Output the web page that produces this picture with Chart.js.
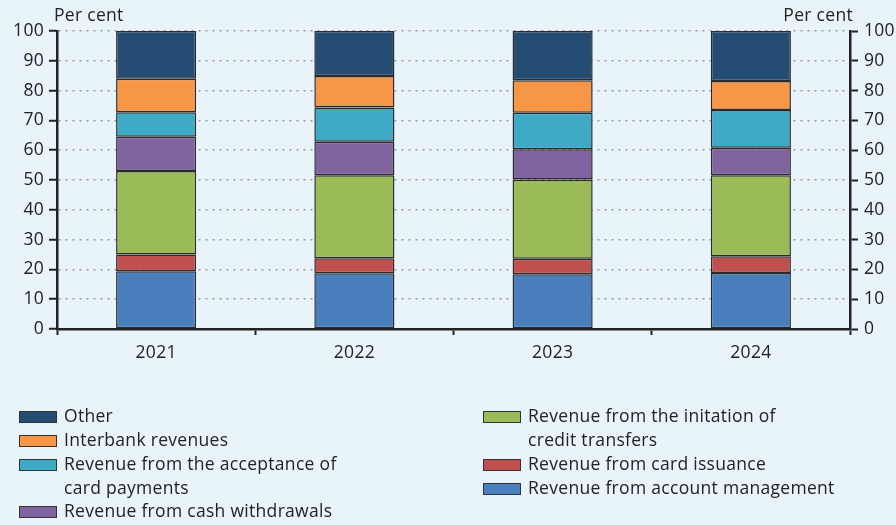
<!DOCTYPE html>
<html>
<head>
<meta charset="utf-8">
<script src="https://cdn.jsdelivr.net/npm/chart.js@4.4.1/dist/chart.umd.min.js"></script>
<style>
  body { margin: 0; background: #e9f3fa; }
  #wrap { position: relative; width: 896px; height: 525px; background: #e9f3fa; font-family: 'Open Sans', sans-serif; color: #222; }
  #chart { position: absolute; left: 0; top: 0; }
  .leg { position: absolute; font-size: 17.5px; letter-spacing: 0.3px; line-height: 23.7px; white-space: nowrap; }
  .leg .box { position: absolute; left: 0; top: 6px; width: 36px; height: 10px; border: 1px solid #333; }
  .leg .txt { position: absolute; left: 45px; top: -1px; }
</style>
</head>
<body>
<div id="wrap">
  <canvas id="chart" width="896" height="525"></canvas>
  <div id="legend"></div>
</div>
<script>
const years = ['2021', '2022', '2023', '2024'];

const accountManagement = [19.4, 18.7, 18.4, 18.8];
const cardIssuance = [5.6, 5.0, 5.2, 5.6];
const creditTransfers = [28.0, 27.9, 26.6, 27.2];
const cashWithdrawals = [11.5, 11.2, 10.1, 9.2];
const cardAcceptance = [8.2, 11.5, 12.3, 12.7];
const interbank = [11.3, 10.6, 10.9, 9.7];
const other = [16.0, 15.1, 16.5, 16.8];

const yTicks = [0, 10, 20, 30, 40, 50, 60, 70, 80, 90, 100];

const FONT = "'Open Sans', sans-serif";
const FSIZE = 17.5;

// stacked from bottom to top
const series = [
  { label: 'Revenue from account management', data: accountManagement, color: '#4a7fbe' },
  { label: 'Revenue from card issuance', data: cardIssuance, color: '#c0504d' },
  { label: 'Revenue from the initation of credit transfers', data: creditTransfers, color: '#9bbb59' },
  { label: 'Revenue from cash withdrawals', data: cashWithdrawals, color: '#7f64a0' },
  { label: 'Revenue from the acceptance of card payments', data: cardAcceptance, color: '#3eaac6' },
  { label: 'Interbank revenues', data: interbank, color: '#f79646' },
  { label: 'Other', data: other, color: '#254c73' }
];

// legend layout (html, two columns with wrapped lines)
const legendItems = [
  { s: 6, x: 19, y: 405, lines: ['Other'] },
  { s: 5, x: 19, y: 429, lines: ['Interbank revenues'] },
  { s: 4, x: 19, y: 453, lines: ['Revenue from the acceptance of', 'card payments'] },
  { s: 3, x: 19, y: 500, lines: ['Revenue from cash withdrawals'] },
  { s: 2, x: 483, y: 405, lines: ['Revenue from the initation of', 'credit transfers'] },
  { s: 1, x: 483, y: 453, lines: ['Revenue from card issuance'] },
  { s: 0, x: 483, y: 477, lines: ['Revenue from account management'] }
];
const legendEl = document.getElementById('legend');
legendItems.forEach(function (it) {
  const d = document.createElement('div');
  d.className = 'leg';
  d.style.left = it.x + 'px';
  d.style.top = it.y + 'px';
  d.innerHTML = '<span class="box" style="background:' + series[it.s].color + '"></span>' +
    '<span class="txt">' + it.lines.join('<br>') + '</span>';
  legendEl.appendChild(d);
});

const perCent = {
  id: 'perCent',
  beforeDraw(chart) {
    chart.ctx.letterSpacing = '0.3px';
  },
  afterDraw(chart) {
    const ctx = chart.ctx;
    const a = chart.chartArea;
    ctx.save();
    ctx.font = FSIZE + 'px ' + FONT;
    ctx.fillStyle = '#222';
    ctx.textBaseline = 'middle';
    ctx.textAlign = 'left';
    ctx.fillText('Per cent', a.left - 3, a.top - 15);
    ctx.textAlign = 'right';
    ctx.fillText('Per cent', a.right + 3, a.top - 15);
    ctx.restore();
  }
};

new Chart(document.getElementById('chart'), {
  type: 'bar',
  data: {
    labels: years,
    datasets: series.map(function (s) {
      return {
        label: s.label,
        data: s.data,
        backgroundColor: s.color,
        borderColor: '#2a2a2a',
        borderWidth: 1.5,
        borderSkipped: false,
        categoryPercentage: 1,
        barPercentage: 0.404
      };
    })
  },
  options: {
    responsive: false,
    animation: false,
    layout: { padding: { top: 31, left: 0, right: 0, bottom: 0 } },
    plugins: { legend: { display: false }, tooltip: { enabled: false } },
    scales: {
      x: {
        stacked: true,
        afterFit: function (scale) { scale.height = 196; },
        grid: { offset: true, drawOnChartArea: false, drawTicks: true, tickLength: 6, tickColor: '#222', tickWidth: 2 },
        border: { color: '#222', width: 2.5 },
        ticks: { color: '#222', font: { family: FONT, size: FSIZE }, padding: 8 }
      },
      y: {
        stacked: true,
        min: 0,
        max: 100,
        afterFit: function (scale) { scale.width = 57; },
        afterBuildTicks: function (scale) { scale.ticks = yTicks.map(function (v) { return { value: v }; }); },
        grid: { color: '#9a9a9a', lineWidth: 1.5, drawTicks: true, tickLength: 8, tickColor: '#222', tickWidth: 2, tickBorderDash: [] },
        border: { color: '#222', width: 2.5, dash: [2, 5] },
        ticks: { color: '#222', font: { family: FONT, size: FSIZE }, padding: 5 }
      },
      y2: {
        position: 'right',
        min: 0,
        max: 100,
        afterFit: function (scale) { scale.width = 46; },
        afterBuildTicks: function (scale) { scale.ticks = yTicks.map(function (v) { return { value: v }; }); },
        grid: { drawOnChartArea: false, drawTicks: true, tickLength: 8, tickColor: '#222', tickWidth: 2 },
        border: { color: '#222', width: 2.5 },
        ticks: { color: '#222', font: { family: FONT, size: FSIZE }, padding: 6 }
      }
    }
  },
  plugins: [perCent]
});
</script>
</body>
</html>
